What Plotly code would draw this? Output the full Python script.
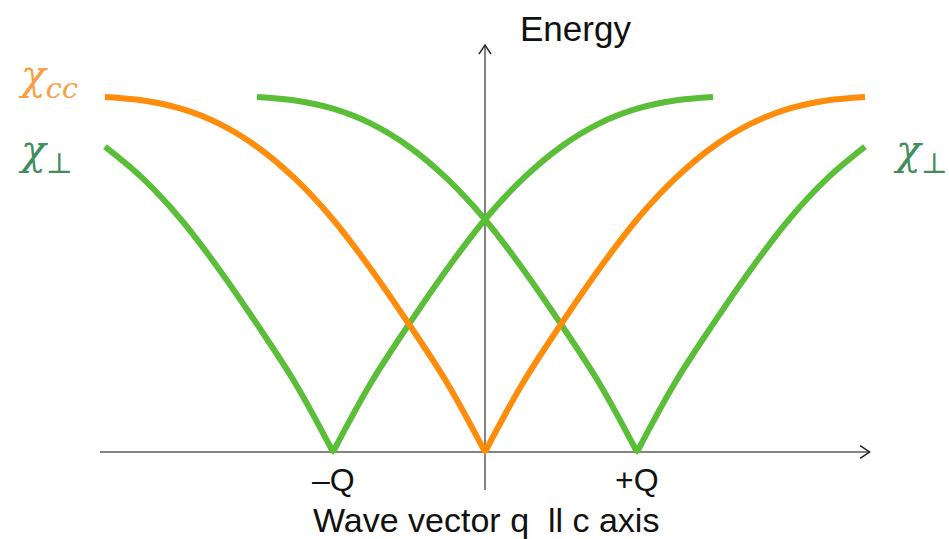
import plotly.graph_objects as go

# Wave vector in units of Q, energy normalised to the zone-boundary maximum.
# chi_cc branch (soft at q = 0)
q_cc_left = [-2.50, -2.25, -2.00, -1.75, -1.50, -1.25, -1.00, -0.75, -0.50, -0.25, 0.0]
e_cc_left = [1.00, 0.99, 0.967, 0.925, 0.86, 0.77, 0.655, 0.515, 0.36, 0.195, 0.0]
q_cc_right = [0.0, 0.25, 0.50, 0.75, 1.00, 1.25, 1.50, 1.75, 2.00, 2.25, 2.50]
e_cc_right = [0.0, 0.195, 0.36, 0.515, 0.655, 0.77, 0.86, 0.925, 0.967, 0.99, 1.00]

# chi_perp branch soft at -Q
q_pm_left = [-2.50, -2.25, -2.00, -1.75, -1.50, -1.25, -1.00]
e_pm_left = [0.86, 0.77, 0.655, 0.515, 0.36, 0.195, 0.0]
q_pm_right = [-1.00, -0.75, -0.50, -0.25, 0.00, 0.25, 0.50, 0.75, 1.00, 1.25, 1.50]
e_pm_right = [0.0, 0.195, 0.36, 0.515, 0.655, 0.77, 0.86, 0.925, 0.967, 0.99, 1.00]

# chi_perp branch soft at +Q
q_pp_left = [-1.50, -1.25, -1.00, -0.75, -0.50, -0.25, 0.00, 0.25, 0.50, 0.75, 1.00]
e_pp_left = [1.00, 0.99, 0.967, 0.925, 0.86, 0.77, 0.655, 0.515, 0.36, 0.195, 0.0]
q_pp_right = [1.00, 1.25, 1.50, 1.75, 2.00, 2.25, 2.50]
e_pp_right = [0.0, 0.195, 0.36, 0.515, 0.655, 0.77, 0.86]

# tick labels on the wave-vector axis
tick_q = [-1.0, 1.0]
tick_text = ["\u2013Q", "+Q"]

ORANGE = "#FF8C0A"
GREEN = "#5BBE38"
ORANGE_TXT = "#F9A046"
GREEN_TXT = "#438C5C"
AXIS = "#5a5a5a"
LW = 6

W, H = 949, 539
X_RANGE = [-485 / 152, (W - 485) / 152]
Y_RANGE = [-(H - 452) / 355, 452 / 355]

fig = go.Figure()

branches = [
    (q_pm_left, e_pm_left, GREEN),
    (q_pm_right, e_pm_right, GREEN),
    (q_pp_left, e_pp_left, GREEN),
    (q_pp_right, e_pp_right, GREEN),
    (q_cc_left, e_cc_left, ORANGE),
    (q_cc_right, e_cc_right, ORANGE),
]
for qs, es, col in branches:
    fig.add_trace(go.Scatter(
        x=qs, y=es, mode="lines",
        line=dict(color=col, width=LW, shape="spline", smoothing=1.0),
        hoverinfo="skip", showlegend=False,
    ))

# sharpen the cusps where the two halves of a branch meet
cusp_q = [q_pm_left[-1], q_pp_left[-1], q_cc_left[-1]]
cusp_e = [e_pm_left[-1], e_pp_left[-1], e_cc_left[-1]]
fig.add_trace(go.Scatter(
    x=cusp_q, y=cusp_e, mode="markers",
    marker=dict(symbol="triangle-down", size=6,
                color=[GREEN, GREEN, ORANGE], line=dict(width=0)),
    hoverinfo="skip", showlegend=False,
))

# axes drawn as arrows
ax_q_end = 2.53
ax_e_top = 1.146
shapes = [
    dict(type="line", x0=-2.533, x1=ax_q_end, y0=0, y1=0,
         line=dict(color=AXIS, width=1.5), layer="below"),
    dict(type="line", x0=0, x1=0, y0=-0.107, y1=ax_e_top,
         line=dict(color=AXIS, width=1.5), layer="below"),
    dict(type="path",
         path=f"M {ax_q_end - 0.062},0.018 L {ax_q_end},0 L {ax_q_end - 0.062},-0.018",
         line=dict(color="#222", width=1.5)),
    dict(type="path",
         path=f"M -0.04,{ax_e_top - 0.025} L 0,{ax_e_top} L 0.04,{ax_e_top - 0.025}",
         line=dict(color="#222", width=1.5)),
]

sans = "Liberation Sans, Arial, sans-serif"
ann = []
for q, t in zip(tick_q, tick_text):
    ann.append(dict(x=q, y=-0.08, xref="x", yref="y", text=t, showarrow=False,
                    xanchor="center", yanchor="middle",
                    font=dict(family=sans, size=32, color="#111")))
ann.append(dict(x=486 / W, y=1 - 520 / H, xref="paper", yref="paper",
                text="Wave vector q \u00a0ll c axis", showarrow=False,
                xanchor="center", yanchor="middle",
                font=dict(family=sans, size=34, color="#111")))
ann.append(dict(x=575 / W, y=1 - 28 / H, xref="paper", yref="paper",
                text="Energy", showarrow=False, xanchor="center", yanchor="middle",
                font=dict(family=sans, size=35, color="#111")))

serif = "DejaVu Serif, Liberation Serif, serif"
ann.append(dict(x=16 / W, y=1 - 78 / H, xref="paper", yref="paper",
                text="<i>\u03c7<sub>cc</sub></i>", showarrow=False,
                xanchor="left", yanchor="middle",
                font=dict(family=serif, size=41, color=ORANGE_TXT)))
ann.append(dict(x=16 / W, y=1 - 153 / H, xref="paper", yref="paper",
                text="<i>\u03c7</i><sub>\u22a5</sub>", showarrow=False,
                xanchor="left", yanchor="middle",
                font=dict(family=serif, size=41, color=GREEN_TXT)))
ann.append(dict(x=891 / W, y=1 - 153 / H, xref="paper", yref="paper",
                text="<i>\u03c7</i><sub>\u22a5</sub>", showarrow=False,
                xanchor="left", yanchor="middle",
                font=dict(family=serif, size=41, color=GREEN_TXT)))

fig.update_layout(
    width=W, height=H,
    margin=dict(l=0, r=0, t=0, b=0),
    paper_bgcolor="white", plot_bgcolor="white",
    xaxis=dict(range=X_RANGE, visible=False, fixedrange=True),
    yaxis=dict(range=Y_RANGE, visible=False, fixedrange=True),
    shapes=shapes, annotations=ann,
)

fig.write_html("out.html")
